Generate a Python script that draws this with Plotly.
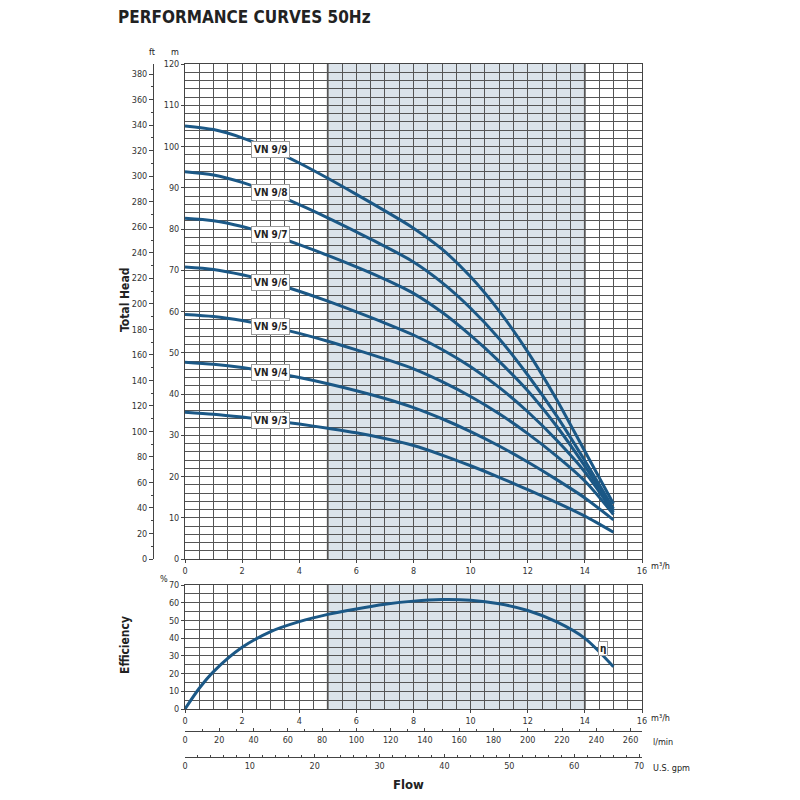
import numpy as np
import plotly.graph_objects as go

# pump curves VN 9 series, 50Hz (flow in m3/h, head in m)
flow = [0, 1, 2, 3, 4, 5, 6, 7, 8, 9, 10, 11, 12, 13, 14, 15]
vn9_3 = [35.6, 35.1, 34.4, 33.6, 32.7, 31.7, 30.6, 29.2, 27.5, 25.2, 22.6, 19.8, 16.8, 13.7, 10.4, 6.5]
vn9_4 = [47.7, 47.2, 46.4, 45.3, 44.0, 42.5, 40.8, 38.9, 36.7, 34.0, 30.9, 27.4, 23.5, 19.3, 14.8, 9.5]
vn9_5 = [59.3, 58.8, 57.8, 56.4, 54.7, 52.8, 50.7, 48.5, 46.1, 43.0, 39.4, 35.2, 30.4, 25.0, 18.9, 10.8]
vn9_6 = [70.8, 70.2, 68.9, 67.1, 64.9, 62.5, 59.9, 57.2, 54.3, 50.8, 46.6, 41.6, 35.7, 28.9, 21.1, 11.3]
vn9_7 = [82.6, 82.0, 80.6, 78.6, 76.2, 73.6, 70.8, 67.8, 64.4, 59.8, 54.2, 47.9, 40.8, 32.3, 22.5, 11.7]
vn9_8 = [93.9, 93.1, 91.3, 88.8, 85.9, 82.7, 79.3, 75.8, 72.0, 67.0, 60.8, 53.4, 44.6, 34.8, 23.8, 12.2]
vn9_9 = [105.0, 104.1, 102.1, 99.3, 96.0, 92.3, 88.4, 84.4, 80.2, 75.1, 68.4, 60.1, 50.2, 38.8, 26.1, 13.4]
models = ["VN 9/3", "VN 9/4", "VN 9/5", "VN 9/6", "VN 9/7", "VN 9/8", "VN 9/9"]
heads = [vn9_3, vn9_4, vn9_5, vn9_6, vn9_7, vn9_8, vn9_9]

eff_flow = [0, 0.5, 1, 2, 3, 4, 5, 6, 7, 8, 9, 10, 11, 12, 13, 14, 15]
efficiency = [0, 11.7, 21.1, 34.8, 43.7, 49.3, 53.4, 56.5, 59.1, 60.9, 61.8, 61.4, 59.4, 55.6, 49.3, 39.9, 23.9]

# recommended working range
range_lo, range_hi = 5, 14

BLUE = "#1b5886"
GRID = "#555555"
SHADE = "#dbe3ea"
FONT = "DejaVu Sans Condensed, Liberation Sans Narrow, sans-serif"
tickfont = dict(family=FONT, size=9, color="#333")

# page pixel -> paper fraction (the page body adds an 8px margin)
def px(x):
    return (x - 8) / 800

def py(y):
    return 1 - (y - 8) / 800

fig = go.Figure()

for name, h in zip(models, heads):
    fig.add_trace(go.Scatter(x=flow, y=h, mode="lines", line=dict(color=BLUE, width=3, shape="spline", smoothing=0.8),
                             name=name, showlegend=False, xaxis="x", yaxis="y"))
    fig.add_annotation(x=3.0, y=float(np.interp(3.0, flow, h)), xref="x", yref="y", text="<b>%s</b>" % name,
                       showarrow=False, bgcolor="white", bordercolor="#999", borderwidth=1, borderpad=2,
                       font=dict(family=FONT, size=10, color="#222"))

fig.add_trace(go.Scatter(x=eff_flow, y=efficiency, mode="lines",
                         line=dict(color=BLUE, width=3, shape="spline", smoothing=0.8),
                         showlegend=False, xaxis="x2", yaxis="y2"))
fig.add_annotation(x=14.65, y=34, xref="x2", yref="y2", text="<b>η</b>", showarrow=False, bgcolor="white",
                   bordercolor="#999", borderwidth=1, borderpad=1, font=dict(family=FONT, size=10, color="#222"))

# invisible traces so the extra flow and head scales get drawn
lmin = [q * 1000 / 60 for q in flow]
gpm = [q * 4.402868 for q in flow]
fig.add_trace(go.Scatter(x=lmin, y=vn9_3, mode="lines", opacity=0, hoverinfo="skip", showlegend=False,
                         xaxis="x4", yaxis="y2"))
fig.add_trace(go.Scatter(x=gpm, y=vn9_3, mode="lines", opacity=0, hoverinfo="skip", showlegend=False,
                         xaxis="x5", yaxis="y2"))
fig.add_trace(go.Scatter(x=flow, y=[v / 0.3048 for v in vn9_3], mode="lines", opacity=0, hoverinfo="skip",
                         showlegend=False, xaxis="x", yaxis="y3"))

# shaded working range
for xa, ya in [("x", "y"), ("x2", "y2")]:
    fig.add_shape(type="rect", xref=xa, yref=ya + " domain", x0=range_lo, x1=range_hi, y0=0, y1=1,
                  fillcolor=SHADE, line_width=0, layer="below")
    for xv in [range_lo, range_hi]:
        fig.add_shape(type="line", xref=xa, yref=ya + " domain", x0=xv, x1=xv, y0=0, y1=1,
                      line=dict(color="#777", width=2), layer="below")

xdom = [px(185), px(642)]
grid_axis = dict(showgrid=True, gridcolor=GRID, gridwidth=0.8, showline=True, mirror=True, linecolor="#444",
                 linewidth=1, ticks="outside", ticklen=3, tickcolor="#444", tickfont=tickfont, zeroline=False,
                 automargin=False)
scale_axis = dict(showgrid=False, showline=True, linecolor="#444", tickcolor="#444", tickfont=tickfont,
                  zeroline=False, automargin=False)

fig.update_layout(
    width=800, height=800, margin=dict(l=0, r=0, t=0, b=0),
    plot_bgcolor="white", paper_bgcolor="white",
    xaxis=dict(domain=xdom, anchor="y", range=[0, 16], dtick=2,
               minor=dict(dtick=0.5, showgrid=True, gridcolor=GRID, gridwidth=0.8), **grid_axis),
    yaxis=dict(domain=[py(559), py(64)], anchor="x", range=[0, 120], dtick=10,
               minor=dict(dtick=2, showgrid=True, gridcolor=GRID, gridwidth=0.8), **grid_axis),
    yaxis3=dict(overlaying="y", anchor="free", position=px(153), side="left", range=[0, 388], dtick=20,
                ticks="outside", ticklen=4, minor=dict(dtick=10, ticks="outside", ticklen=2, tickcolor="#444"),
                **scale_axis),
    xaxis2=dict(domain=xdom, anchor="y2", range=[0, 16], dtick=2,
                minor=dict(dtick=0.5, showgrid=True, gridcolor=GRID, gridwidth=0.8), **grid_axis),
    yaxis2=dict(domain=[py(709), py(585)], anchor="x2", range=[0, 70], dtick=10,
                minor=dict(dtick=5, showgrid=True, gridcolor=GRID, gridwidth=0.8), **grid_axis),
    xaxis4=dict(overlaying="x2", anchor="free", position=py(731), side="bottom", range=[0, 16000 / 60],
                dtick=20, ticks="inside", ticklen=3,
                minor=dict(dtick=10, ticks="inside", ticklen=2, tickcolor="#444"), **scale_axis),
    xaxis5=dict(overlaying="x2", anchor="free", position=py(757), side="bottom", range=[0, 16 * 4.402868],
                dtick=10, ticks="inside", ticklen=3,
                minor=dict(dtick=2, ticks="inside", ticklen=2, tickcolor="#444"), **scale_axis),
)

def label(text, x, y, size=10, bold=False, angle=0, anchor="left"):
    fig.add_annotation(x=px(x), y=py(y), xref="paper", yref="paper", text="<b>%s</b>" % text if bold else text,
                       showarrow=False, textangle=angle, xanchor=anchor, yanchor="middle",
                       font=dict(family=FONT, size=size, color="#222"))

label("PERFORMANCE CURVES 50Hz", 116, 17, size=17, bold=True)
label("ft", 152, 52, size=9, anchor="center")
label("m", 175, 52, size=9, anchor="center")
label("%", 164, 579, size=9, anchor="center")
label("m³/h", 649, 566, size=9)
label("m³/h", 649, 718, size=9)
label("l/min", 651, 742, size=9)
label("U.S. gpm", 651, 768, size=9)
label("Total Head", 125, 300, size=12, bold=True, angle=-90, anchor="center")
label("Efficiency", 125, 645, size=12, bold=True, angle=-90, anchor="center")
label("Flow", 408, 784, size=13, bold=True, anchor="center")

fig.write_html("out.html")
